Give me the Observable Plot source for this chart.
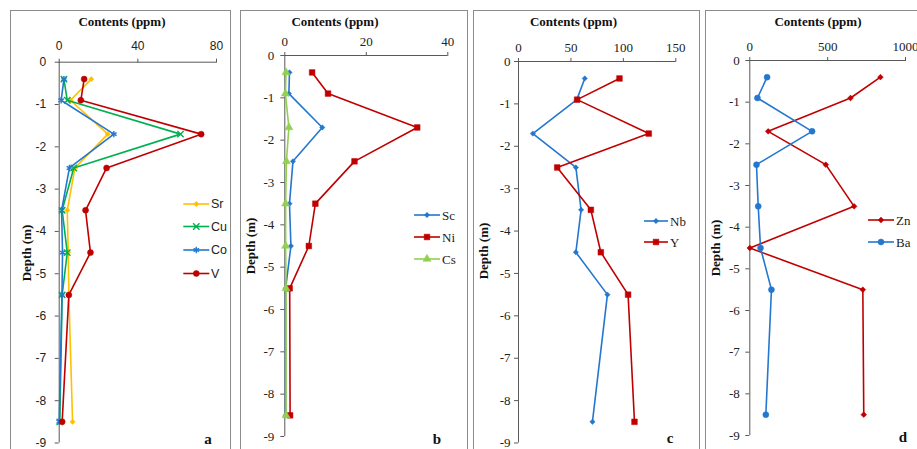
<!DOCTYPE html>
<html><head><meta charset="utf-8">
<script src="https://cdn.jsdelivr.net/npm/d3@7"></script>
<script src="https://cdn.jsdelivr.net/npm/@observablehq/plot@0.6"></script>
<style>
html,body{margin:0;padding:0;background:#fff;overflow:hidden}
#chart{position:relative;width:917px;height:449px;overflow:hidden;background:#fff}
.box{position:absolute;top:10px;height:470px;border:1px solid #8c8c8c;box-sizing:border-box}
.plotwrap{position:absolute;top:0}
.plotwrap svg{background:transparent !important;max-width:none !important}
</style></head>
<body><div id="chart"></div>
<script>
// ---------- data ----------
const depths = [-0.4, -0.9, -1.7, -2.5, -3.5, -4.5, -5.5, -8.5];
const depthTicks = [0, -1, -2, -3, -4, -5, -6, -7, -8, -9];

const srValues = [16.3, 5.7, 24.7, 8.0, 4.1, 4.6, 4.9, 6.8];
const cuValues = [2.4, 4.1, 61.7, 7.4, 1.5, 4.1, 1.5, 0.3];
const coValues = [2.4, 1.0, 27.8, 5.2, 1.2, 1.7, 1.4, 0.0];
const vValues  = [12.7, 11.0, 72.2, 24.1, 13.4, 15.9, 4.9, 1.5];

const scValues = [1.15, 1.0, 9.2, 2.0, 1.15, 1.5, 0.2, 0.2];
const niValues = [6.7, 10.6, 32.5, 17.1, 7.5, 5.9, 1.2, 1.3];
const csValues = [0.3, 0.15, 1.0, 0.4, 0.2, 0.2, 0.3, 0.3];

const nbValues = [63.2, 55.6, 13.7, 54.7, 59.7, 54.7, 84.8, 70.5];
const yValues  = [96.3, 55.9, 124.2, 36.9, 69.0, 78.5, 104.5, 110.6];

const znValues = [839, 647, 118, 488, 670, 0, 726, 732];
const baValues = [111, 49, 400, 43, 54, 69, 139, 103];

const ticksA = [0, 40, 80];
const ticksB = [0, 20, 40];
const ticksC = [0, 50, 100, 150];
const ticksD = [0, 500, 1000];

const titleText = "Contents (ppm)";
const depthText = "Depth (m)";

// ---------- styles / layout ----------
const SANS = "'Liberation Sans', Arial, sans-serif";
const SERIF = "'Liberation Serif', 'Times New Roman', serif";
const AXIS = "#595959";
const RED = "#C00000", BLUE = "#2477CF";

const panels = [
  {letter: "a", box: [10, 231], x0: 58.7, x1: 216, y0: 61.7, y9: 442.5, domain: [0, 80], ticks: ticksA,
   tickFont: SANS, tickSize: 12, legendFont: SANS, legendSize: 12.5, xPad: 8, yPad: 9,
   title: [122, 21.7], depth: [26.7, 253], letterPos: [208, 439],
   legLine: [183.3, 209.3], legText: 211, legY: [204, 226.5, 250, 273.5],
   series: [
     {name: "Sr", values: srValues, color: "#FFC000", symbol: "diamond2", r: 2.4, filled: true},
     {name: "Cu", values: cuValues, color: "#00B050", symbol: "times", r: 3, filled: false},
     {name: "Co", values: coValues, color: BLUE, symbol: "asterisk", r: 3, filled: false},
     {name: "V",  values: vValues,  color: RED, symbol: "circle", r: 3, filled: true}
   ]},
  {letter: "b", box: [240, 468], x0: 284.3, x1: 447.3, y0: 55, y9: 436, domain: [0, 40], ticks: ticksB,
   tickFont: SERIF, tickSize: 13, legendFont: SERIF, legendSize: 13, xPad: 6, yPad: 6.5,
   title: [335, 21], depth: [250, 246], letterPos: [437, 439],
   legLine: [414, 440], legText: 442, legY: [215, 237, 259],
   series: [
     {name: "Sc", values: scValues, color: BLUE, symbol: "diamond2", r: 2.4, filled: true},
     {name: "Ni", values: niValues, color: RED, symbol: "square", r: 3.2, filled: true},
     {name: "Cs", values: csValues, color: "#92D050", symbol: "triangle", r: 3, filled: true}
   ]},
  {letter: "c", box: [473, 700], x0: 518, x1: 675.3, y0: 61, y9: 442.5, domain: [0, 150], ticks: ticksC,
   tickFont: SERIF, tickSize: 13, legendFont: SERIF, legendSize: 13, xPad: 6, yPad: 4,
   title: [573.5, 21.7], depth: [483, 251], letterPos: [670, 438],
   legLine: [644, 668], legText: 670, legY: [221, 242],
   series: [
     {name: "Nb", values: nbValues, color: BLUE, symbol: "diamond2", r: 2.4, filled: true},
     {name: "Y",  values: yValues,  color: RED, symbol: "square", r: 3.2, filled: true}
   ]},
  {letter: "d", box: [705, 935], x0: 749.3, x1: 905, y0: 60, y9: 435, domain: [0, 1000], ticks: ticksD,
   tickFont: SERIF, tickSize: 13, legendFont: SERIF, legendSize: 13, xPad: 6, yPad: 6,
   title: [818, 21.7], depth: [715, 248], letterPos: [903, 437],
   legLine: [868, 894], legText: 896, legY: [220, 242],
   series: [
     {name: "Zn", values: znValues, color: RED, symbol: "diamond2", r: 2.6, filled: true},
     {name: "Ba", values: baValues, color: BLUE, symbol: "circle", r: 3, filled: true}
   ]}
];

const symbolMap = {
  diamond2: d3.symbolDiamond2, square: d3.symbolSquare, triangle: d3.symbolTriangle,
  circle: d3.symbolCircle, times: d3.symbolTimes, asterisk: d3.symbolAsterisk
};

const chart = document.getElementById("chart");
const H = 449;

for (const p of panels) {
  const L = p.box[0], W = p.box[1] - p.box[0];
  const box = document.createElement("div");
  box.className = "box";
  box.style.left = L + "px";
  box.style.width = W + "px";
  chart.appendChild(box);

  const marks = [
    Plot.ruleY([0], {stroke: AXIS, strokeWidth: 1}),
    Plot.ruleX([0], {stroke: AXIS, strokeWidth: 1}),
    Plot.axisX({anchor: "top", ticks: p.ticks, tickSize: 4, tickPadding: p.xPad, tickFormat: d => String(d),
      label: null, stroke: AXIS, fill: "#222", fontFamily: p.tickFont, fontSize: p.tickSize}),
    Plot.axisY({anchor: "left", ticks: depthTicks, tickSize: 4, tickPadding: p.yPad, tickFormat: d => String(d),
      label: null, stroke: AXIS, fill: "#222", fontFamily: p.tickFont, fontSize: p.tickSize})
  ];
  for (const s of p.series) {
    const rows = depths.map((d, i) => ({depth: d, value: s.values[i]}));
    marks.push(Plot.line(rows, {x: "value", y: "depth", stroke: s.color, strokeWidth: 1.6}));
    marks.push(Plot.dot(rows, s.filled
      ? {x: "value", y: "depth", symbol: s.symbol, r: s.r, fill: s.color, stroke: s.color, strokeWidth: 0.5}
      : {x: "value", y: "depth", symbol: s.symbol, r: s.r, stroke: s.color, strokeWidth: 1.4}));
  }

  const svgEl = Plot.plot({
    width: W, height: H,
    marginLeft: p.x0 - L, marginRight: W - (p.x1 - L),
    marginTop: p.y0, marginBottom: H - p.y9,
    x: {domain: p.domain, axis: null},
    y: {domain: [-9, 0], axis: null},
    style: {background: "transparent", fontFamily: p.tickFont, fontSize: p.tickSize + "px", color: "#222",
            width: W + "px", height: H + "px", maxWidth: "none"},
    marks
  });

  const wrap = document.createElement("div");
  wrap.className = "plotwrap";
  wrap.style.left = L + "px";
  wrap.style.width = W + "px";
  wrap.style.height = H + "px";
  wrap.appendChild(svgEl);
  chart.appendChild(wrap);

  const svg = d3.select(svgEl);
  const g = svg.append("g").attr("transform", `translate(${-L},0)`);

  // title
  g.append("text").text(titleText)
    .attr("x", p.title[0]).attr("y", p.title[1]).attr("dy", "0.35em")
    .attr("text-anchor", "middle").attr("font-family", SERIF).attr("font-weight", "bold")
    .attr("font-size", 13).attr("fill", "#111");
  // depth label
  g.append("text").text(depthText)
    .attr("transform", `translate(${p.depth[0]},${p.depth[1]}) rotate(-90)`).attr("dy", "0.35em")
    .attr("text-anchor", "middle").attr("font-family", SERIF).attr("font-weight", "bold")
    .attr("font-size", 13).attr("fill", "#111");
  // panel letter
  g.append("text").text(p.letter)
    .attr("x", p.letterPos[0]).attr("y", p.letterPos[1]).attr("dy", "0.3em")
    .attr("text-anchor", "middle").attr("font-family", SERIF).attr("font-weight", "bold")
    .attr("font-size", 15).attr("fill", "#111");

  // legend
  p.series.forEach((s, i) => {
    const y = p.legY[i];
    const lg = g.append("g");
    lg.append("line").attr("x1", p.legLine[0]).attr("x2", p.legLine[1]).attr("y1", y).attr("y2", y)
      .attr("stroke", s.color).attr("stroke-width", 1.6);
    const cx = (p.legLine[0] + p.legLine[1]) / 2;
    const path = d3.symbol(symbolMap[s.symbol], s.r * s.r * Math.PI)();
    lg.append("path").attr("d", path).attr("transform", `translate(${cx},${y})`)
      .attr("fill", s.filled ? s.color : "none").attr("stroke", s.color)
      .attr("stroke-width", s.filled ? 0.5 : 1.4);
    lg.append("text").text(s.name).attr("x", p.legText).attr("y", y).attr("dy", "0.35em")
      .attr("text-anchor", "start")
      .attr("font-family", p.legendFont).attr("font-size", p.legendSize).attr("fill", "#222");
  });
}
</script>
</body></html>
